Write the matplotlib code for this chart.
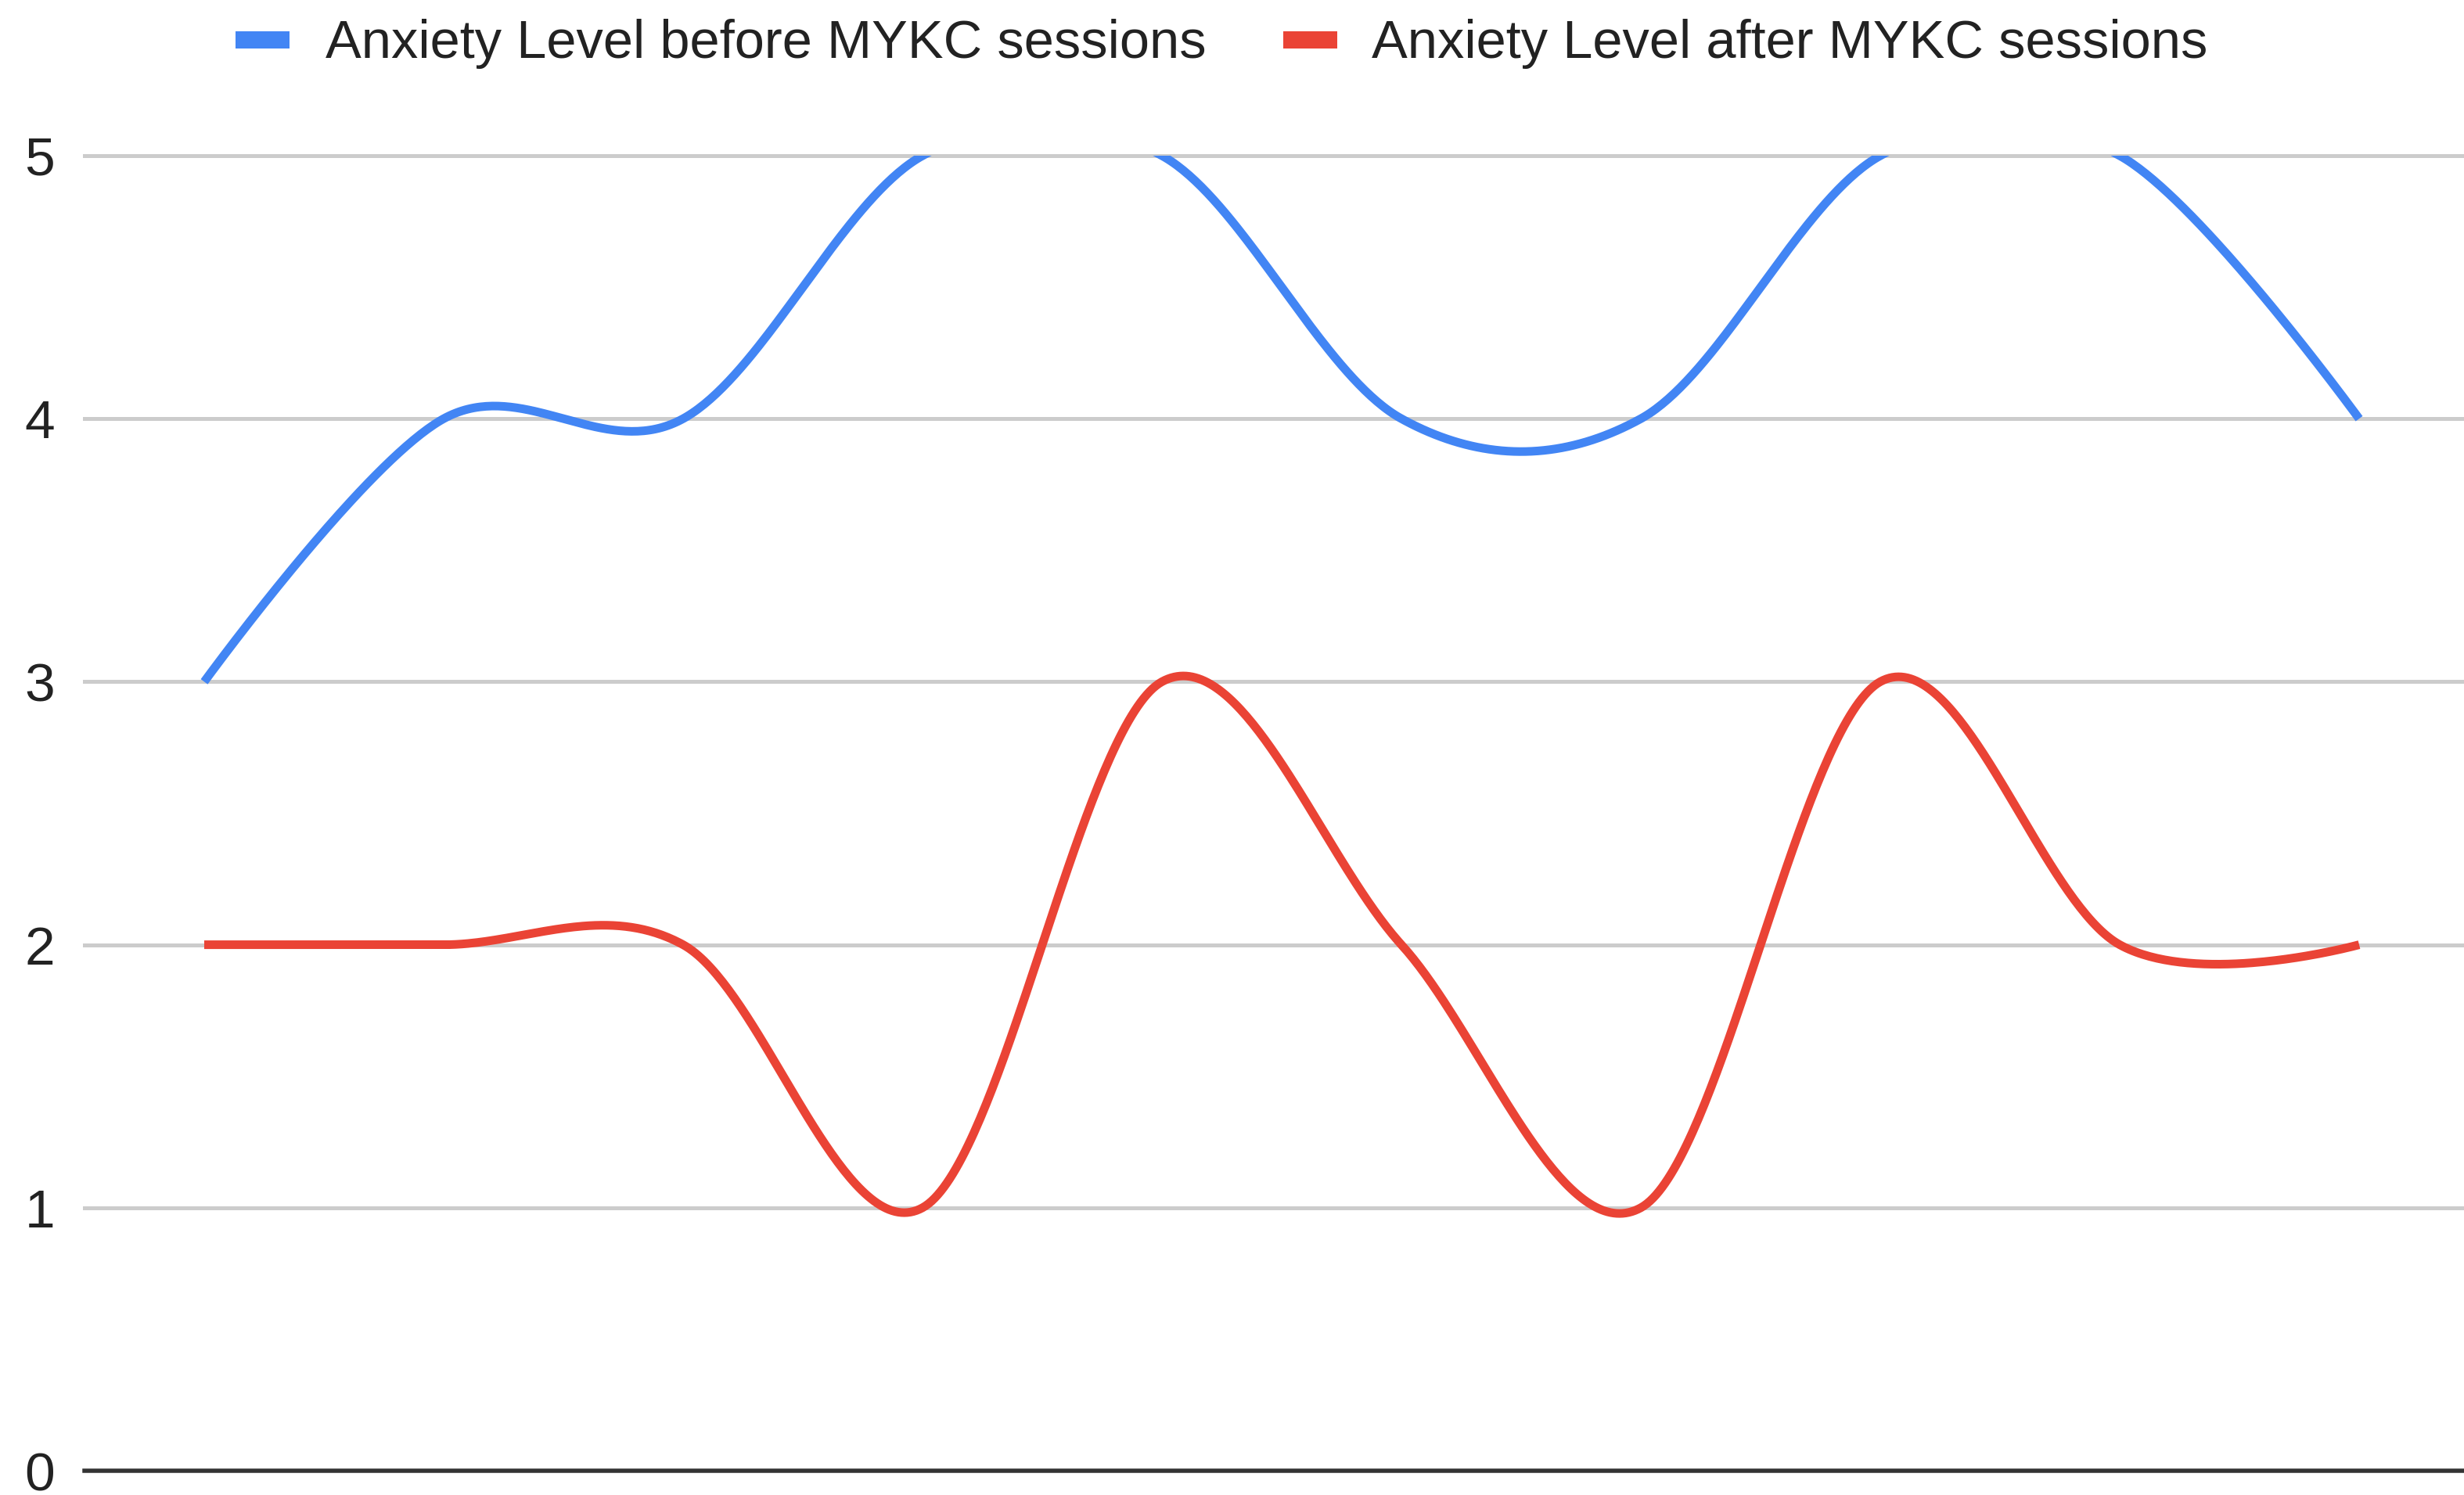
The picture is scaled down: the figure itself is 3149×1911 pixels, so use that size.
import numpy as np
import matplotlib
matplotlib.use("Agg")
import matplotlib.pyplot as plt
from matplotlib.patches import Rectangle

plt.rcParams['font.family'] = ['Liberation Sans', 'DejaVu Sans']

# Session index (10 sessions) and the recorded anxiety levels
sessions = list(range(10))
before_mykc = [3, 4, 4, 5, 5, 4, 4, 5, 5, 4]
after_mykc = [2, 2, 2, 1, 3, 2, 1, 3, 2, 2]
series_names = ["Anxiety Level before MYKC sessions", "Anxiety Level after MYKC sessions"]
y_ticks = [0, 1, 2, 3, 4, 5]

BLUE = "#4285F4"
RED = "#EA4335"

W, H = 3149, 1911
DPI = 100


def smooth_curve(xs, ys, samples=80):
    """Piecewise cubic Bezier through the points; interior control points
    follow the neighbour chord (Catmull-Rom style), end points use themselves."""
    pts = np.column_stack([np.asarray(xs, float), np.asarray(ys, float)])
    n = len(pts)
    t = np.linspace(0, 1, samples)[:, None]
    out = []
    for i in range(n - 1):
        p0, p3 = pts[i], pts[i + 1]
        c1 = p0 + (pts[i + 1] - pts[i - 1]) / 6.0 if i > 0 else p0
        c2 = p3 - (pts[i + 2] - pts[i]) / 6.0 if i + 1 < n - 1 else p3
        seg = ((1 - t) ** 3) * p0 + 3 * ((1 - t) ** 2) * t * c1 \
            + 3 * (1 - t) * t ** 2 * c2 + t ** 3 * p3
        out.append(seg if i == 0 else seg[1:])
    curve = np.vstack(out)
    return curve[:, 0], curve[:, 1]


fig = plt.figure(figsize=(W / DPI, H / DPI), dpi=DPI)
fig.patch.set_facecolor("white")

left, right, top, bottom = 108, W, 199, 1880
ax = fig.add_axes([left / W, (H - bottom) / H, (right - left) / W, (bottom - top) / H])

step_px = 306.0
ax.set_xlim(-0.5, -0.5 + (right - left) / step_px)
ax.set_ylim(0, 5)

px = 72.0 / DPI  # points per pixel

for v in y_ticks[1:]:
    ax.axhline(v, color="#cccccc", lw=5 * px, zorder=1, clip_on=False)
ax.axhline(0, color="#333333", lw=5.5 * px, zorder=3, clip_on=False)

for vals, color in ((before_mykc, BLUE), (after_mykc, RED)):
    cx, cy = smooth_curve(sessions, vals)
    ax.plot(cx, cy, color=color, lw=11 * px, solid_capstyle="butt",
            solid_joinstyle="round", zorder=2)

for s in ax.spines.values():
    s.set_visible(False)
ax.set_xticks([])
ax.set_yticks(y_ticks)
ax.set_yticklabels([str(v) for v in y_ticks])
ax.tick_params(axis="y", length=0, pad=38 * px, labelsize=50, labelcolor="#222222")
ax.set_facecolor("white")

# Legend row across the top
legend_y = 49
for (x0, color), (tx, label) in zip(((301, BLUE), (1640, RED)),
                                    ((416, series_names[0]), (1753, series_names[1]))):
    fig.add_artist(Rectangle((x0 / W, (H - 62) / H), 69 / W, 22 / H,
                             transform=fig.transFigure, color=color, lw=0))
    fig.text(tx / W, (H - legend_y) / H, label, fontsize=49.4, color="#222222",
             ha="left", va="center_baseline")

fig.savefig("out.png", dpi=DPI)
